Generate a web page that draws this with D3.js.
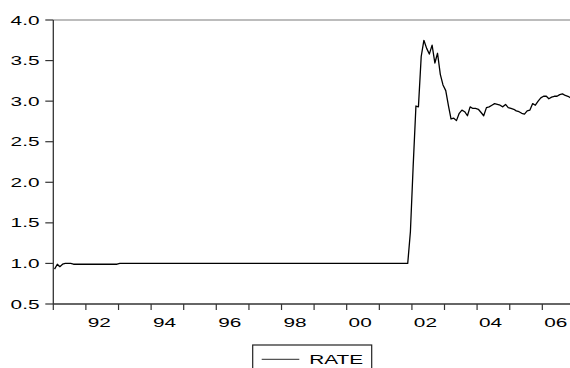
<!DOCTYPE html>
<html>
<head>
<meta charset="utf-8">
<script src="https://cdn.jsdelivr.net/npm/d3@7/dist/d3.min.js"></script>
<style>
  html, body { margin: 0; padding: 0; background: #fff; }
  svg { display: block; }
  text { font-family: "Liberation Sans", Arial, sans-serif; font-size: 13px; fill: #000; }
</style>
</head>
<body>
<div id="chart"></div>
<script>
// monthly RATE, one row per year (Jan..Dec)
const years = [1991, 1992, 1993, 1994, 1995, 1996, 1997, 1998, 1999, 2000, 2001, 2002, 2003, 2004, 2005, 2006];
const rate1991 = [0.93, 0.99, 0.96, 0.99, 1.00, 1.00, 1.00, 0.99, 0.99, 0.99, 0.99, 0.99];
const rate1992 = [0.99, 0.99, 0.99, 0.99, 0.99, 0.99, 0.99, 0.99, 0.99, 0.99, 0.99, 0.99];
const rate1993 = [1.00, 1.00, 1.00, 1.00, 1.00, 1.00, 1.00, 1.00, 1.00, 1.00, 1.00, 1.00];
const rate1994 = [1.00, 1.00, 1.00, 1.00, 1.00, 1.00, 1.00, 1.00, 1.00, 1.00, 1.00, 1.00];
const rate1995 = [1.00, 1.00, 1.00, 1.00, 1.00, 1.00, 1.00, 1.00, 1.00, 1.00, 1.00, 1.00];
const rate1996 = [1.00, 1.00, 1.00, 1.00, 1.00, 1.00, 1.00, 1.00, 1.00, 1.00, 1.00, 1.00];
const rate1997 = [1.00, 1.00, 1.00, 1.00, 1.00, 1.00, 1.00, 1.00, 1.00, 1.00, 1.00, 1.00];
const rate1998 = [1.00, 1.00, 1.00, 1.00, 1.00, 1.00, 1.00, 1.00, 1.00, 1.00, 1.00, 1.00];
const rate1999 = [1.00, 1.00, 1.00, 1.00, 1.00, 1.00, 1.00, 1.00, 1.00, 1.00, 1.00, 1.00];
const rate2000 = [1.00, 1.00, 1.00, 1.00, 1.00, 1.00, 1.00, 1.00, 1.00, 1.00, 1.00, 1.00];
const rate2001 = [1.00, 1.00, 1.00, 1.00, 1.00, 1.00, 1.00, 1.00, 1.00, 1.00, 1.00, 1.39];
const rate2002 = [2.20, 2.94, 2.93, 3.55, 3.75, 3.65, 3.58, 3.69, 3.47, 3.59, 3.33, 3.20];
const rate2003 = [3.13, 2.94, 2.78, 2.79, 2.76, 2.85, 2.89, 2.87, 2.82, 2.93, 2.91, 2.91];
const rate2004 = [2.90, 2.86, 2.82, 2.92, 2.93, 2.95, 2.97, 2.96, 2.95, 2.93, 2.96, 2.92];
const rate2005 = [2.91, 2.90, 2.88, 2.87, 2.85, 2.84, 2.88, 2.89, 2.97, 2.95, 3.00, 3.04];
const rate2006 = [3.06, 3.06, 3.03, 3.05, 3.06, 3.06, 3.08, 3.09, 3.07, 3.06, 3.04];

const yTicks = [0.5, 1.0, 1.5, 2.0, 2.5, 3.0, 3.5, 4.0];
const xTickYears = [1991, 1992, 1993, 1994, 1995, 1996, 1997, 1998, 1999, 2000, 2001, 2002, 2003, 2004, 2005, 2006, 2007];
const xLabelYears = [1992, 1994, 1996, 1998, 2000, 2002, 2004, 2006];
const seriesName = 'RATE';

const rows = [rate1991, rate1992, rate1993, rate1994, rate1995, rate1996, rate1997, rate1998,
  rate1999, rate2000, rate2001, rate2002, rate2003, rate2004, rate2005, rate2006];

// flatten to {date, value}, observation drawn at mid-month
const data = [];
rows.forEach((row, i) => {
  row.forEach((v, m) => data.push({ date: new Date(years[i], m, 15), value: v }));
});

const width = 570, height = 368;
const plotLeft = 53.3, plotTop = 20, plotBottom = 304;
const stretch = 1.6; // text in the reference is horizontally stretched

const x = d3.scaleTime()
  .domain([new Date(1991, 0, 1), new Date(2007, 0, 1)])
  .range([plotLeft, plotLeft + 16 * 32.6]);
const y = d3.scaleLinear().domain([0.5, 4.0]).range([plotBottom, plotTop]);

const svg = d3.select('#chart').append('svg')
  .attr('width', width)
  .attr('height', height);

// top frame line
svg.append('line')
  .attr('x1', plotLeft).attr('x2', width)
  .attr('y1', plotTop).attr('y2', plotTop)
  .attr('stroke', '#7a7a7a').attr('stroke-width', 1.2);

// y axis
const yAxis = svg.append('g');
yAxis.append('line')
  .attr('x1', plotLeft).attr('x2', plotLeft)
  .attr('y1', plotTop).attr('y2', plotBottom)
  .attr('stroke', '#333').attr('stroke-width', 1.3);
yAxis.selectAll('line.tick')
  .data(yTicks)
  .join('line')
  .attr('class', 'tick')
  .attr('x1', plotLeft - 8).attr('x2', plotLeft)
  .attr('y1', d => y(d)).attr('y2', d => y(d))
  .attr('stroke', '#333').attr('stroke-width', 1.2);
yAxis.selectAll('text')
  .data(yTicks)
  .join('text')
  .attr('transform', d => `translate(39.5,${y(d) + 4.6}) scale(${stretch},1)`)
  .attr('text-anchor', 'end')
  .text(d => d.toFixed(1));

// x axis
const xAxis = svg.append('g');
xAxis.append('line')
  .attr('x1', plotLeft).attr('x2', width)
  .attr('y1', plotBottom).attr('y2', plotBottom)
  .attr('stroke', '#333').attr('stroke-width', 1.3);
xAxis.selectAll('line.tick')
  .data(xTickYears)
  .join('line')
  .attr('class', 'tick')
  .attr('x1', d => x(new Date(d, 0, 1))).attr('x2', d => x(new Date(d, 0, 1)))
  .attr('y1', plotBottom).attr('y2', plotBottom + 6)
  .attr('stroke', '#333').attr('stroke-width', 1.2);
xAxis.selectAll('text')
  .data(xLabelYears)
  .join('text')
  .attr('transform', d => `translate(${x(new Date(d, 0, 1)) + 13.5},326.8) scale(${stretch},1)`)
  .attr('text-anchor', 'middle')
  .text(d => String(d).slice(2));

// the series
const line = d3.line()
  .x(d => x(d.date))
  .y(d => y(d.value));
svg.append('path')
  .datum(data)
  .attr('d', line)
  .attr('fill', 'none')
  .attr('stroke', '#000')
  .attr('stroke-width', 1.3)
  .attr('stroke-linejoin', 'round');

// legend
const legend = svg.append('g');
legend.append('rect')
  .attr('x', 252.7).attr('y', 345)
  .attr('width', 119).attr('height', 30)
  .attr('fill', '#fff').attr('stroke', '#222').attr('stroke-width', 1.2);
legend.append('line')
  .attr('x1', 261.7).attr('x2', 299.3)
  .attr('y1', 359.3).attr('y2', 359.3)
  .attr('stroke', '#555').attr('stroke-width', 1.2);
legend.append('text')
  .attr('transform', `translate(309.3,364.3) scale(${stretch},1)`)
  .text(seriesName);
</script>
</body>
</html>
